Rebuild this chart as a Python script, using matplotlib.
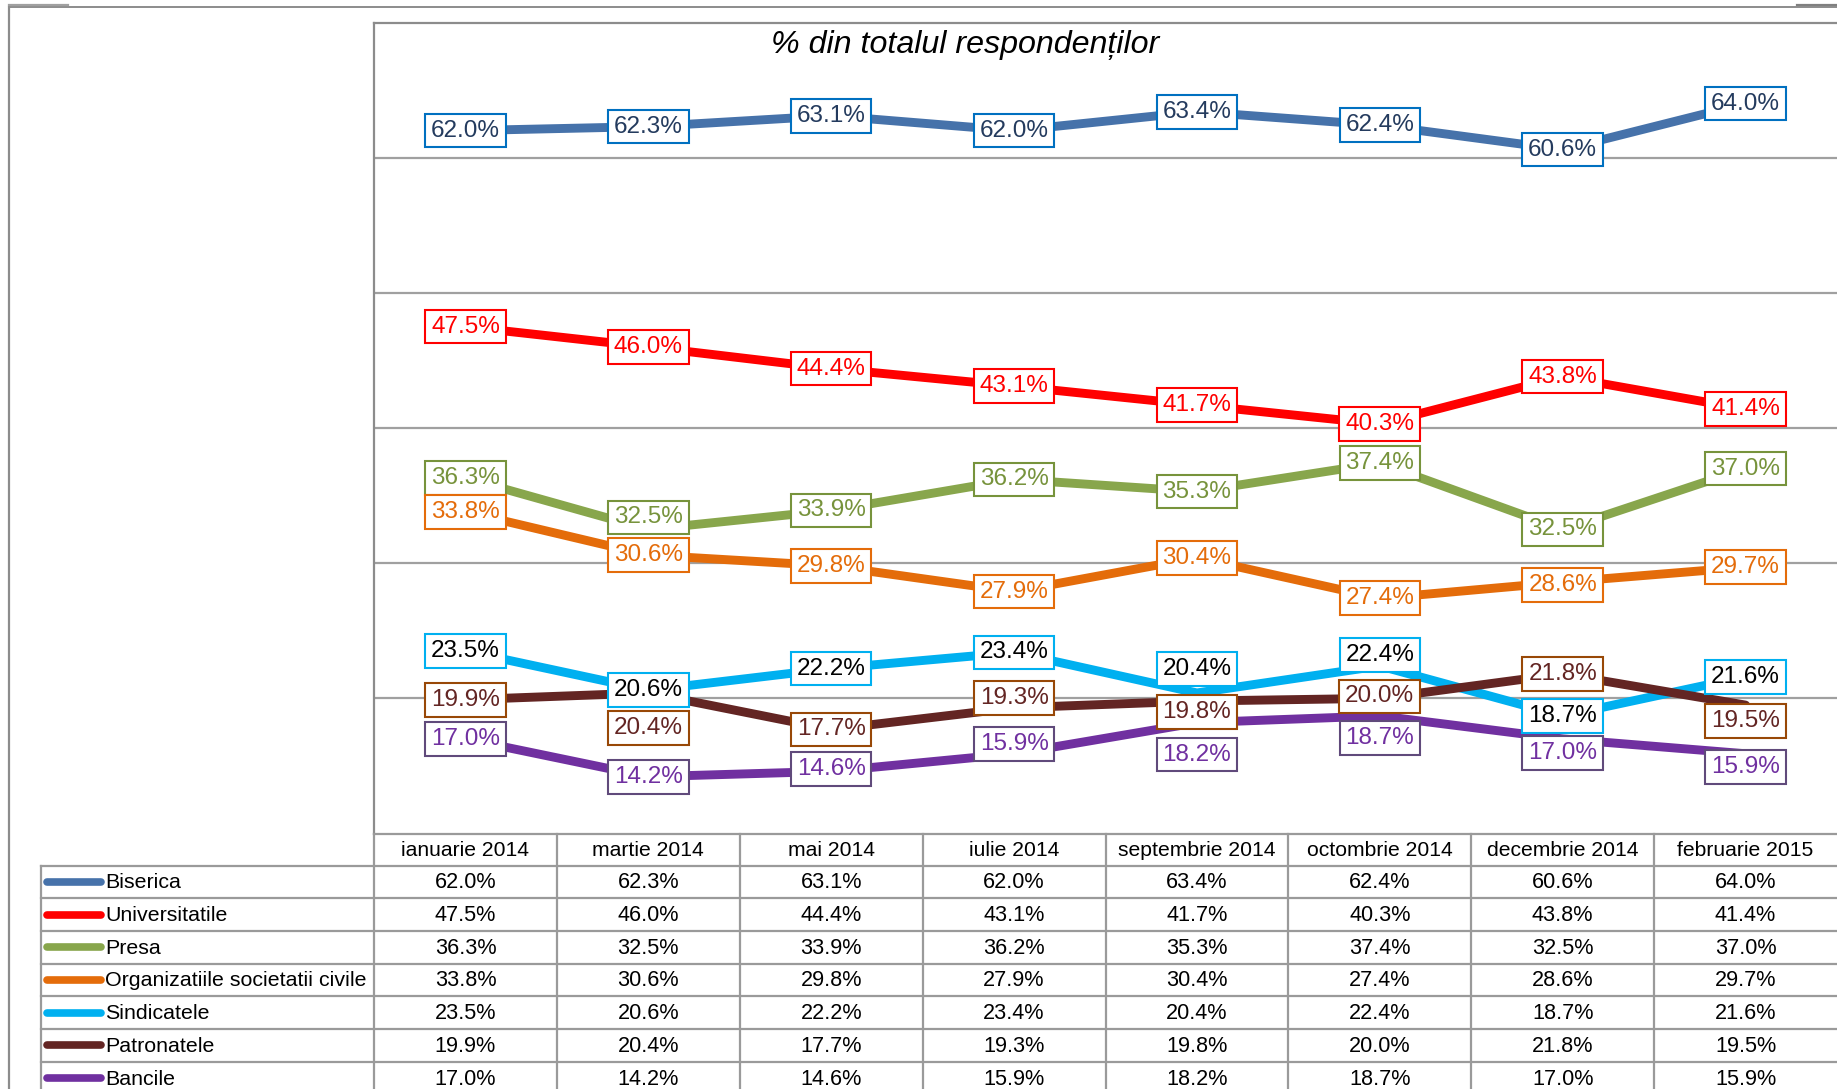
import matplotlib
matplotlib.use("Agg")
import matplotlib.pyplot as plt
from matplotlib import font_manager as fm
from matplotlib.lines import Line2D

# ---------------- data ----------------
categories = ["ianuarie 2014", "martie 2014", "mai 2014", "iulie 2014",
              "septembrie 2014", "octombrie 2014", "decembrie 2014", "februarie 2015"]
series_names = ["Biserica", "Universitatile", "Presa", "Organizatiile societatii civile",
                "Sindicatele", "Patronatele", "Bancile"]
biserica = [62.0, 62.3, 63.1, 62.0, 63.4, 62.4, 60.6, 64.0]
universitatile = [47.5, 46.0, 44.4, 43.1, 41.7, 40.3, 43.8, 41.4]
presa = [36.3, 32.5, 33.9, 36.2, 35.3, 37.4, 32.5, 37.0]
organizatii = [33.8, 30.6, 29.8, 27.9, 30.4, 27.4, 28.6, 29.7]
sindicatele = [23.5, 20.6, 22.2, 23.4, 20.4, 22.4, 18.7, 21.6]
patronatele = [19.9, 20.4, 17.7, 19.3, 19.8, 20.0, 21.8, 19.5]
bancile = [17.0, 14.2, 14.6, 15.9, 18.2, 18.7, 17.0, 15.9]
title = "% din totalul respondenților"

all_values = [biserica, universitatile, presa, organizatii, sindicatele, patronatele, bancile]

# ---------------- styles ----------------
line_colors = ["#4672AA", "#FF0000", "#88A64C", "#E46C0A", "#00B0F0", "#632523", "#7030A0"]
box_edges = ["#0070C0", "#FF0000", "#77933C", "#E46C0A", "#00B0F0", "#984807", "#604A7B"]
text_colors = ["#243B5E", "#FF0000", "#77933C", "#E46C0A", "#000000", "#632523", "#7030A0"]
# vertical label offsets in pixels (positive = up), per series per point
label_dy = [
    [0, 0, 0, 0, 0, 0, 0, 0],
    [0, 0, 0, 0, 0, 0, 0, 0],
    [0, 12, 0, 0, 0, 0, 0, 0],
    [0, 0, 0, 0, 0, 0, -3, 0],
    [0, 0, 0, 0, 24, 11, 0, 0],
    [0, -35, 0, 10, -11, 2, 0, -16],
    [0, 0, 2, 10, -32, -22, -14, -13],
]

def font_or(name, fallback):
    try:
        fm.findfont(fm.FontProperties(family=name), fallback_to_default=False)
        return name
    except Exception:
        return fallback

REG = "Liberation Sans"
NARROW = font_or("Liberation Sans Narrow", REG)
plt.rcParams["font.family"] = [REG, "DejaVu Sans"]

W, H = 1837, 1089
fig = plt.figure(figsize=(W / 100, H / 100), dpi=100)
fig.patch.set_facecolor("white")

# plot area geometry (pixels)
PL, PT, PB = 374, 22.5, 833.5
ax = fig.add_axes([PL / W, 1 - PB / H, 1 - PL / W, (PB - PT) / H])
ax.set_facecolor("none")
n = len(categories)
x = list(range(n))
ax.set_xlim(-0.5, n - 0.5)
ax.set_ylim(10, 70)
ax.set_yticks([20, 30, 40, 50, 60])
ax.yaxis.grid(True, color="#A0A0A0", lw=1.6)
ax.set_axisbelow(True)
ax.tick_params(left=False, bottom=False, labelleft=False, labelbottom=False)
for s in ["right", "bottom"]:
    ax.spines[s].set_visible(False)
for s in ["left", "top"]:
    ax.spines[s].set_color("#8C8C8C")
    ax.spines[s].set_linewidth(1.6)

for i, vals in enumerate(all_values):
    ax.plot(x, vals, color=line_colors[i], lw=6.4, solid_capstyle="round",
            solid_joinstyle="round", zorder=3 + i * 0.01, clip_on=False)
for i, vals in enumerate(all_values):
    for j, v in enumerate(vals):
        ax.annotate(f"{v:.1f}%", (j, v), xytext=(0, label_dy[i][j]), textcoords="offset pixels",
                    ha="center", va="center", fontsize=17.5, family=[NARROW, "DejaVu Sans"],
                    color=text_colors[i], zorder=10 + i,
                    bbox=dict(boxstyle="square,pad=0.24", fc="white", ec=box_edges[i], lw=1.5),
                    annotation_clip=False)

# ---------------- overlay: frame + data table ----------------
ov = fig.add_axes([0, 0, 1, 1], zorder=5)
ov.set_xlim(0, W)
ov.set_ylim(H, 0)
ov.axis("off")
ov.patch.set_alpha(0)

gc = "#9A9A9A"
# outer frame
ov.add_line(Line2D([8.5, 8.5], [6.5, H], color="#8C8C8C", lw=1.6))
ov.add_line(Line2D([8.5, W], [6.5, 6.5], color="#8C8C8C", lw=1.4))
ov.add_line(Line2D([8.5, 68], [5, 5], color="#A0A0A0", lw=1.6))
ov.add_line(Line2D([1797, W], [5, 5], color="#808080", lw=1.6))

fig.text(965 / W, 1 - 53 / H, title, ha="center", va="baseline", fontsize=23.2,
         style="italic", color="black", family=[REG, "DejaVu Sans"])

colw = (W - PL) / n
hdr_top, hdr_bot = PB, 865.5
rh = 32.7
TL = 41
# header row
ov.add_line(Line2D([PL, W], [hdr_top, hdr_top], color=gc, lw=1.6))
for j, c in enumerate(categories):
    ov.text(PL + colw * (j + 0.5), (hdr_top + hdr_bot) / 2 + 1, c, ha="center", va="center",
            fontsize=15.2, color="black")
# horizontal row lines
for r in range(len(series_names) + 1):
    yy = hdr_bot + r * rh
    ov.add_line(Line2D([TL, W], [yy, yy], color=gc, lw=1.6))
# vertical lines
ov.add_line(Line2D([TL, TL], [hdr_bot, H], color=gc, lw=1.6))
ov.add_line(Line2D([PL, PL], [PB, H], color=gc, lw=1.6))
for j in range(1, n):
    xx = PL + colw * j
    ov.add_line(Line2D([xx, xx], [hdr_top, H], color=gc, lw=1.6))
# row contents
for i, name in enumerate(series_names):
    yc = hdr_bot + (i + 0.5) * rh
    ov.add_line(Line2D([47, 101], [yc, yc], color=line_colors[i], lw=5.5, solid_capstyle="round"))
    ov.text(105, yc + 1, name, ha="left", va="center", fontsize=15.4, color="black")
    for j, v in enumerate(all_values[i]):
        ov.text(PL + colw * (j + 0.5), yc + 1, f"{v:.1f}%", ha="center", va="center",
                fontsize=15.6, family=[NARROW, "DejaVu Sans"], color="black")

fig.savefig("out.png", dpi=100, facecolor="white")
